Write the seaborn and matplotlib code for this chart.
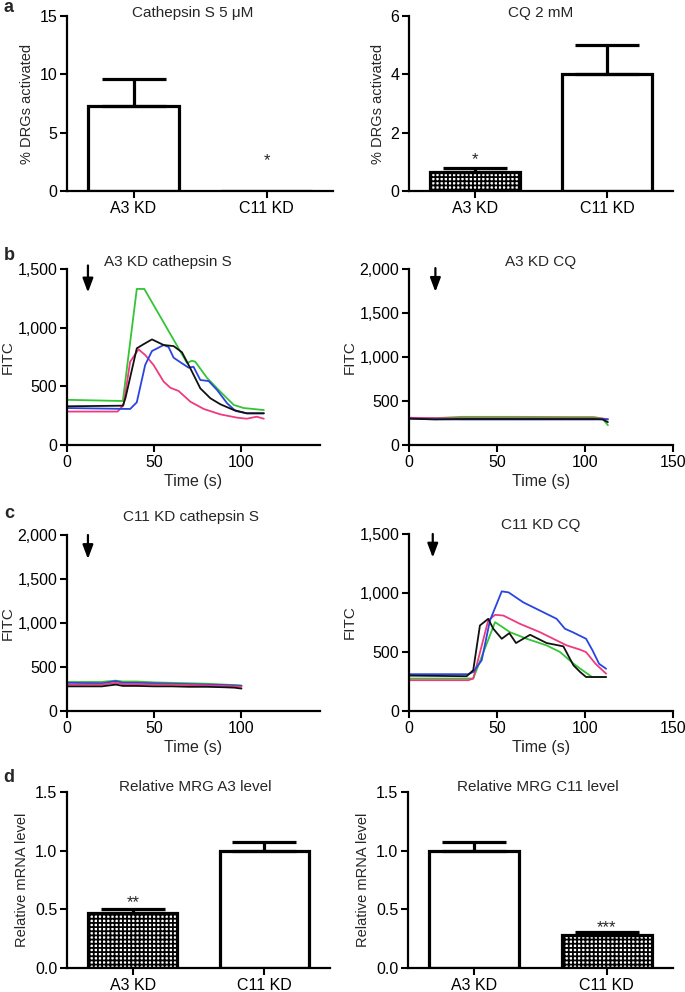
import pandas as pd
import seaborn as sns
import matplotlib
matplotlib.use('Agg')
import matplotlib.pyplot as plt
from matplotlib.ticker import FuncFormatter

# ---- data ----
groups = ['A3 KD', 'C11 KD']

# a: % DRGs activated
cats_pct = [7.3, 0.0]
cats_err = [2.3, 0.0]
cq_pct = [0.65, 4.0]
cq_err = [0.13, 1.0]

# d: relative mRNA level
a3_level = [0.47, 1.0]
a3_level_err = [0.03, 0.07]
c11_level = [1.0, 0.28]
c11_level_err = [0.07, 0.025]

# b: A3 KD cathepsin S traces
b1_green_t = [0, 32, 40, 44.3, 68.8, 71.6, 73.5, 80.3, 87.9, 95.6, 101.3, 112.8]
b1_green_v = [385, 375, 1330, 1330, 699, 718, 710, 571, 454, 341, 315, 298]
b1_pink_t = [0, 29, 32.4, 36.2, 41, 44.8, 49.6, 55.4, 59.2, 64, 70.7, 78.4, 87.9, 97.5, 103, 108.7, 112.8]
b1_pink_v = [285, 285, 341, 710, 815, 767, 682, 540, 488, 460, 369, 307, 261, 233, 224, 241, 224]
b1_blue_t = [0, 36.2, 40, 44.8, 48.7, 55.4, 58.2, 61.1, 65.9, 69.7, 72.5, 76.4, 81.2, 86, 91.8, 96.6, 103, 112.8]
b1_blue_v = [315, 307, 364, 682, 801, 852, 835, 744, 696, 659, 667, 554, 545, 469, 355, 290, 270, 270]
b1_black_t = [0, 32, 33.5, 40, 44, 48.7, 55.4, 61.1, 65.9, 70.7, 76.4, 82.2, 87.9, 95.6, 103, 112.8]
b1_black_v = [330, 335, 400, 824, 860, 900, 852, 843, 790, 653, 483, 398, 347, 298, 270, 270]

# b: A3 KD CQ traces
b2_t = [0, 15, 30, 60, 90, 105, 110, 113]
b2_green_v = [305, 305, 320, 320, 318, 318, 300, 225]
b2_pink_v = [310, 305, 305, 305, 305, 305, 300, 295]
b2_blue_v = [300, 295, 290, 290, 290, 290, 295, 290]
b2_black_v = [300, 290, 295, 295, 295, 295, 290, 260]

# c: C11 KD cathepsin S traces
c1_t = [0, 20, 22, 28, 32, 40, 50, 60, 70, 80, 90, 96, 100]
c1_green_v = [330, 330, 335, 345, 335, 335, 325, 320, 315, 310, 300, 295, 290]
c1_pink_v = [300, 300, 305, 320, 305, 305, 300, 300, 295, 290, 285, 280, 275]
c1_blue_v = [320, 315, 320, 340, 320, 320, 315, 310, 305, 300, 295, 290, 285]
c1_black_v = [280, 280, 285, 300, 285, 285, 280, 280, 275, 275, 270, 265, 255]

# c: C11 KD CQ traces
c2_green_t = [0, 36.5, 48.9, 57.4, 66.9, 78.2, 85.8, 93.4, 97.2, 104, 112]
c2_green_v = [275, 275, 753, 668, 612, 556, 500, 402, 360, 288, 288]
c2_pink_t = [0, 33.7, 36.5, 45, 48.9, 53.6, 63, 74.4, 85.8, 89.6, 97.2, 100.6, 106, 112]
c2_pink_v = [261, 261, 275, 767, 815, 809, 739, 668, 584, 556, 520, 499, 400, 316]
c2_blue_t = [0, 33.7, 36.5, 41.3, 46, 52.7, 56.6, 64.9, 74.4, 83.9, 88.6, 93, 100.6, 104.3, 108, 112]
c2_blue_v = [312, 312, 331, 430, 767, 1014, 1005, 921, 851, 781, 697, 668, 612, 513, 400, 358]
c2_black_t = [0, 32.8, 36.5, 40.3, 45, 47.9, 52.7, 57, 60.8, 68.8, 78.2, 87.7, 93.4, 97.2, 100.6, 112]
c2_black_v = [300, 295, 346, 725, 781, 697, 612, 660, 576, 646, 576, 548, 388, 331, 288, 288]

GREEN = '#35C435'
PINK = '#EE3A7E'
BLUE = '#2A44E0'
BLACK = '#111111'

sns.set_theme(style='ticks')
plt.rcParams['font.family'] = ['Liberation Sans', 'DejaVu Sans']
plt.rcParams['hatch.linewidth'] = 1.3
plt.rcParams['hatch.color'] = 'black'

W, H = 685, 992
fig = plt.figure(figsize=(W / 100, H / 100), dpi=100)


def make_axes(x0, x1, ytop, ybot):
    return fig.add_axes([x0 / W, 1 - ybot / H, (x1 - x0) / W, (ybot - ytop) / H])


def style_axes(ax):
    sns.despine(ax=ax)
    for s in ['left', 'bottom']:
        ax.spines[s].set_linewidth(1.6)
        ax.spines[s].set_color('black')
    ax.tick_params(direction='out', length=5, width=1.5, labelsize=11.5, colors='black', pad=2)


def bar_panel(ax, vals, errs, hatched, ylim, yticks, fmt, ylabel, stars):
    sns.barplot(x=groups, y=vals, ax=ax, color='white', edgecolor='black', linewidth=2.3,
                width=0.68, errorbar=None, saturation=1)
    for i, patch in enumerate(ax.patches):
        if hatched[i]:
            patch.set_hatch('++++')
    for i in range(len(vals)):
        if errs[i] > 0:
            ax.errorbar(i, vals[i], yerr=[[0], [errs[i]]], fmt='none', ecolor='black',
                        elinewidth=2.3, capsize=23, capthick=2.3, zorder=3)
    for i, (txt, y) in stars.items():
        ax.text(i, y, txt, ha='center', va='bottom', fontsize=12)
    ax.set_xlim(-0.5, 1.5)
    ax.set_ylim(*ylim)
    ax.set_yticks(yticks)
    ax.yaxis.set_major_formatter(FuncFormatter(fmt))
    ax.set_ylabel(ylabel, fontsize=10.5, labelpad=4)
    ax.set_xlabel('')
    style_axes(ax)


def trace_panel(ax, traces, xlim, xticks, ylim, yticks, arrow):
    for t, v, c in traces:
        df = pd.DataFrame({'Time (s)': t, 'FITC': v})
        sns.lineplot(data=df, x='Time (s)', y='FITC', ax=ax, color=c, linewidth=1.3, estimator=None)
    ax.set_xlim(*xlim)
    ax.set_xticks(xticks)
    ax.set_ylim(*ylim)
    ax.set_yticks(yticks)
    ax.yaxis.set_major_formatter(FuncFormatter(lambda v, p: f'{v:,.0f}'))
    ax.set_xlabel('Time (s)', fontsize=11.5, labelpad=3)
    ax.set_ylabel('FITC', fontsize=11, labelpad=2)
    at, y0, y1 = arrow
    ax.annotate('', xy=(at, y1), xytext=(at, y0), annotation_clip=False,
                arrowprops=dict(arrowstyle='-|>,head_length=0.4,head_width=0.15', color='black',
                                lw=1.6, mutation_scale=21, shrinkA=0, shrinkB=0))
    style_axes(ax)


int_fmt = lambda v, p: f'{v:.0f}'
dec_fmt = lambda v, p: f'{v:.1f}'

# a
ax = make_axes(67, 333, 16, 191)
bar_panel(ax, cats_pct, cats_err, [False, False], (0, 15), [0, 5, 10, 15], int_fmt,
          '% DRGs activated', {1: ('*', 2.0)})
ax = make_axes(409, 673, 16, 191)
bar_panel(ax, cq_pct, cq_err, [True, False], (0, 6), [0, 2, 4, 6], int_fmt,
          '% DRGs activated', {0: ('*', 0.82)})

# b
ax = make_axes(67, 320, 269, 445)
trace_panel(ax, [(b1_green_t, b1_green_v, GREEN), (b1_pink_t, b1_pink_v, PINK),
                 (b1_blue_t, b1_blue_v, BLUE), (b1_black_t, b1_black_v, BLACK)],
            (0, 145), [0, 50, 100], (0, 1500), [0, 500, 1000, 1500], (12, 1530, 1300))
ax = make_axes(409, 673, 269, 445)
trace_panel(ax, [(b2_t, b2_green_v, GREEN), (b2_t, b2_pink_v, PINK),
                 (b2_t, b2_blue_v, BLUE), (b2_t, b2_black_v, BLACK)],
            (0, 150), [0, 50, 100, 150], (0, 2000), [0, 500, 1000, 1500, 2000], (15, 2010, 1740))

# c
ax = make_axes(67, 320, 535, 711)
trace_panel(ax, [(c1_t, c1_green_v, GREEN), (c1_t, c1_blue_v, BLUE),
                 (c1_t, c1_pink_v, PINK), (c1_t, c1_black_v, BLACK)],
            (0, 145), [0, 50, 100], (0, 2000), [0, 500, 1000, 1500, 2000], (12, 2000, 1727))
ax = make_axes(409, 673, 534, 711)
trace_panel(ax, [(c2_green_t, c2_green_v, GREEN), (c2_pink_t, c2_pink_v, PINK),
                 (c2_blue_t, c2_blue_v, BLUE), (c2_black_t, c2_black_v, BLACK)],
            (0, 150), [0, 50, 100, 150], (0, 1500), [0, 500, 1000, 1500], (13.5, 1500, 1300))

# d
ax = make_axes(67, 330, 792, 968)
bar_panel(ax, a3_level, a3_level_err, [True, False], (0, 1.5), [0, 0.5, 1.0, 1.5], dec_fmt,
          'Relative mRNA level', {0: ('**', 0.49)})
ax = make_axes(408, 673, 792, 968)
bar_panel(ax, c11_level, c11_level_err, [False, True], (0, 1.5), [0, 0.5, 1.0, 1.5], dec_fmt,
          'Relative mRNA level', {1: ('***', 0.28)})

# titles and panel letters
titles = [('Cathepsin S 5 \u03bcM', 193, 13), ('CQ 2 mM', 541, 13),
          ('A3 KD cathepsin S', 168, 262), ('A3 KD CQ', 541, 262),
          ('C11 KD cathepsin S', 191, 517), ('C11 KD CQ', 541, 525),
          ('Relative MRG A3 level', 195, 787), ('Relative MRG C11 level', 538, 787)]
for txt, x, y in titles:
    fig.text(x / W, 1 - y / H, txt, ha='center', va='center', fontsize=11)

for letter, x, y in [('a', 9, 8), ('b', 9, 255), ('c', 9, 513), ('d', 9, 777)]:
    fig.text(x / W, 1 - y / H, letter, ha='center', va='center', fontsize=13, fontweight='bold')

fig.savefig('out.png', dpi=100, facecolor='white')
